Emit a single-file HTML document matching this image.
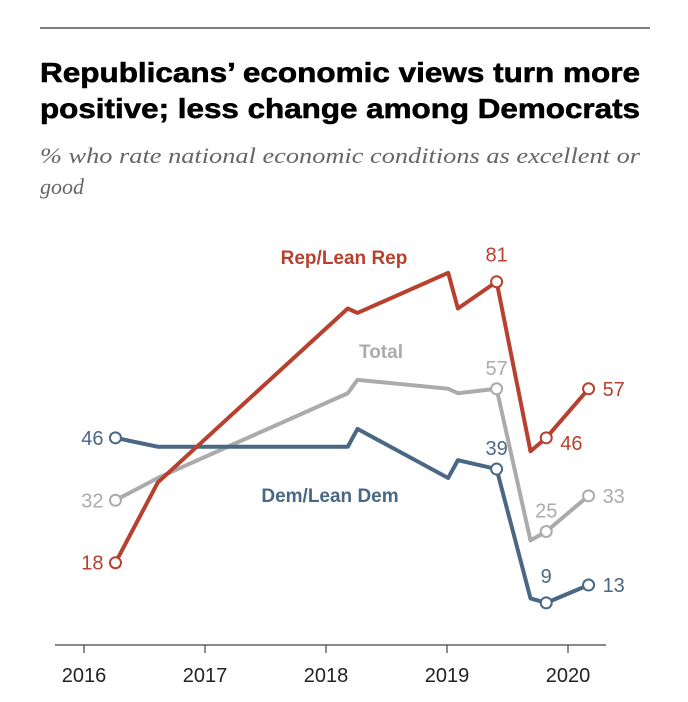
<!DOCTYPE html>
<html><head><meta charset="utf-8"><style>
body{margin:0;background:#fff;width:688px;height:702px;overflow:hidden}
svg{display:block}
</style></head><body>
<svg width="688" height="702">
<line x1="40" y1="28" x2="650" y2="28" stroke="#000" stroke-width="1"/>
<text x="40" y="82" font-family="Liberation Sans, sans-serif" font-weight="bold" font-size="28" fill="#000" textLength="600" lengthAdjust="spacingAndGlyphs" stroke="#000" stroke-width="0.6">Republicans’ economic views turn more</text>
<text x="40" y="118" font-family="Liberation Sans, sans-serif" font-weight="bold" font-size="28" fill="#000" textLength="600" lengthAdjust="spacingAndGlyphs" stroke="#000" stroke-width="0.6">positive; less change among Democrats</text>
<text x="40" y="163" font-family="Liberation Serif, serif" font-style="italic" font-size="22" fill="#666" textLength="600" lengthAdjust="spacingAndGlyphs">% who rate national economic conditions as excellent or</text>
<text x="40" y="194" font-family="Liberation Serif, serif" font-style="italic" font-size="22" fill="#666">good</text>
<g id="axis"></g>
<g id="series"></g>
<g id="labels" font-family="Liberation Sans, sans-serif"></g>
</svg>
<script>
const years = [2016.26, 2016.61, 2018.18, 2018.26, 2019.01, 2019.09, 2019.41, 2019.69, 2019.82, 2020.17];
const repValues = [18, 36, 75, 74, 83, 75, 81, 43, 46, 57];
const totalValues = [32, 37, 56, 59, 57, 56, 57, 23, 25, 33];
const demValues = [46, 44, 44, 48, 37, 41, 39, 10, 9, 13];
const tickYears = [2016, 2017, 2018, 2019, 2020];
const circleIdx = [0, 6, 8, 9];
const repLabels = ['18', '81', '46', '57'];
const totalLabels = ['32', '57', '25', '33'];
const demLabels = ['46', '39', '9', '13'];

const NS = 'http://www.w3.org/2000/svg';
const xs = y => 84 + (y - 2016) * 121;
const ys = v => 643 - v * 4.46;
function mk(tag, attrs, parent) {
  const e = document.createElementNS(NS, tag);
  for (const k in attrs) e.setAttribute(k, attrs[k]);
  parent.appendChild(e);
  return e;
}
const axis = document.getElementById('axis');
const al = mk('line', {x1: 55, x2: 606, y1: 645, y2: 645, stroke: '#444', 'stroke-width': 1.2}, axis);


tickYears.forEach(t => {
  const tk = mk('line', {x1: xs(t), x2: xs(t), y1: 645, y2: 653, stroke: '#444', 'stroke-width': 1.2}, axis);
  
  
  const tl = mk('text', {x: xs(t), y: 682, 'text-anchor': 'middle', 'font-family': 'Liberation Sans, sans-serif', 'font-size': 20, fill: '#222'}, axis);
  tl.textContent = t;
  
  
});
const series = document.getElementById('series');
const labels = document.getElementById('labels');
function draw(vals, color, name, lbls, offs) {
  const pts = vals.map((v, i) => xs(years[i]) + ',' + ys(v)).join(' ');
  const pl = mk('polyline', {points: pts, fill: 'none', stroke: color, 'stroke-width': 4, 'stroke-linejoin': 'round'}, series);
  
  
  circleIdx.forEach((i, k) => {
    const c = mk('circle', {cx: xs(years[i]), cy: ys(vals[i]), r: 5.5, fill: '#fff', stroke: color, 'stroke-width': 2}, series);
    
    
    const t = mk('text', {x: xs(years[i]) + offs[k][0], y: ys(vals[i]) + offs[k][1], 'text-anchor': offs[k][2], 'font-size': 20, fill: color}, labels);
    t.textContent = lbls[k];
    
    
  });
}
draw(totalValues, '#ababab', 'total', totalLabels, [[-12, 7, 'end'], [0, -14, 'middle'], [0, -14, 'middle'], [14, 7, 'start']]);
draw(demValues, '#4a6783', 'dem', demLabels, [[-12, 7, 'end'], [0, -14, 'middle'], [0, -20, 'middle'], [14, 7, 'start']]);
draw(repValues, '#b8402e', 'rep', repLabels, [[-12, 7, 'end'], [0, -20, 'middle'], [14, 12, 'start'], [14, 7, 'start']]);
function name(txt, x, y, color, dn) {
  const t = mk('text', {x: x, y: y, 'text-anchor': 'middle', 'font-size': 19, 'font-weight': 'bold', fill: color}, labels);
  t.textContent = txt;
  
  
}
name('Rep/Lean Rep', 344, 264, '#b8402e', 'rep-series-label');
name('Total', 381, 358, '#ababab', 'total-series-label');
name('Dem/Lean Dem', 330, 502, '#4a6783', 'dem-series-label');
</script>
</body></html>
